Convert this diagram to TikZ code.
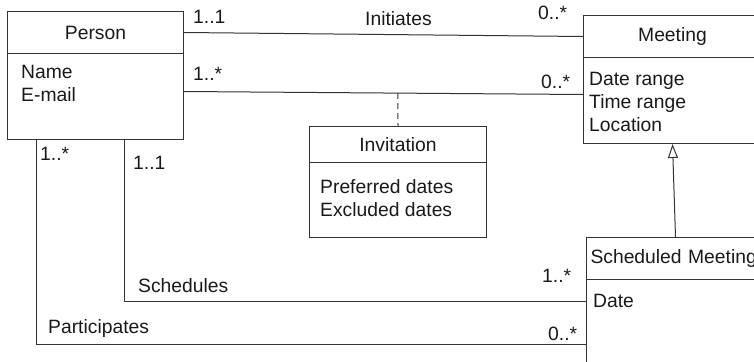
\documentclass[tikz,border=0pt]{standalone}
\usepackage{fontspec}
\setmainfont{Liberation Sans}
\usetikzlibrary{arrows.meta}
\definecolor{ink}{HTML}{333333}
\tikzset{
  txt/.style={font=\fontsize{19.3}{23}\selectfont, text=black!90, inner sep=0pt},
  head/.style={draw=ink, line width=1pt, txt, anchor=north west, minimum width=#1, minimum height=42pt},
  body/.style={draw=ink, line width=1pt, anchor=north west, minimum width=#1, inner sep=0pt},
  attrs/.style={txt, anchor=north west, align=left},
  mult/.style={txt, anchor=base west},
  assoc/.style={draw=ink, line width=1pt},
  generalise/.style={assoc, -{Triangle[open, length=14pt, width=10pt]}},
}
\begin{document}
\begin{tikzpicture}[x=1pt, y=-1pt]
  \useasboundingbox (0,0) rectangle (754,361);
  \clip (0,0) rectangle (754,361);

  % Person class
  \node[head=176pt] (person) at (7,11) {Person};
  \node[body=176pt, minimum height=86pt] (personbody) at (7,53) {};
  \node[attrs] (personattrs) at (21,65) {Name\\E-mail};

  % Meeting class
  \node[head=178pt] (meeting) at (583,15) {Meeting};
  \node[body=178pt, minimum height=86pt] (meetingbody) at (583,57) {};
  \node[attrs] (meetingattrs) at (589,72) {Date range\\Time range\\Location};

  % Invitation association class
  \node[head=177pt, minimum height=36pt] (invitation) at (309,126) {Invitation};
  \node[body=177pt, minimum height=75pt] (invitationbody) at (309,162) {};
  \node[attrs] (invitationattrs) at (320,179) {Preferred dates\\Excluded dates};

  % Scheduled Meeting subclass
  \node[head=178pt, text width=170pt, align=left, inner xsep=4pt] (sched) at (586,237) {Scheduled Meeting};
  \node[body=178pt, minimum height=110pt] (schedbody) at (586,279) {};
  \node[attrs] (schedattrs) at (593,294) {Date};

  % Initiates
  \draw[assoc] (person.east) -- (meeting.east -| meeting.west);
  \node[mult] (m1) at (193,24) {1..1};
  \node[mult] (l1) at (365,26) {Initiates};
  \node[mult] (m2) at (538,20) {0..*};

  % Invitation association
  \coordinate (pa) at ([yshift=5pt]personbody.east);
  \coordinate (ma) at ([yshift=6pt]meetingbody.west);
  \draw[assoc] (pa) -- (ma) coordinate[pos=0.536] (invlink);
  \draw[assoc, dash pattern=on 6pt off 4pt] (invlink) -- (invitation.north);
  \node[mult] (m3) at (193,81) {1..*};
  \node[mult] (m4) at (541,88) {0..*};

  % Generalisation
  \draw[generalise] (sched.north) -- (meetingbody.south);

  % Schedules
  \coordinate (ps) at ([xshift=117pt]personbody.south west);
  \coordinate (ss) at ([yshift=-22pt]schedbody.north west);
  \draw[assoc] (ps) |- (ss);
  \node[mult] (m5) at (133,169) {1..1};
  \node[mult] (l2) at (138,292) {Schedules};
  \node[mult] (m6) at (542,282) {1..*};

  % Participates
  \coordinate (pp) at ([xshift=29pt]personbody.south west);
  \coordinate (sp) at ([yshift=-65pt]schedbody.north west);
  \draw[assoc] (pp) |- (sp);
  \node[mult] (m7) at (40,160) {1..*};
  \node[mult] (l3) at (48,333) {Participates};
  \node[mult] (m8) at (548,340) {0..*};
\end{tikzpicture}
\end{document}
